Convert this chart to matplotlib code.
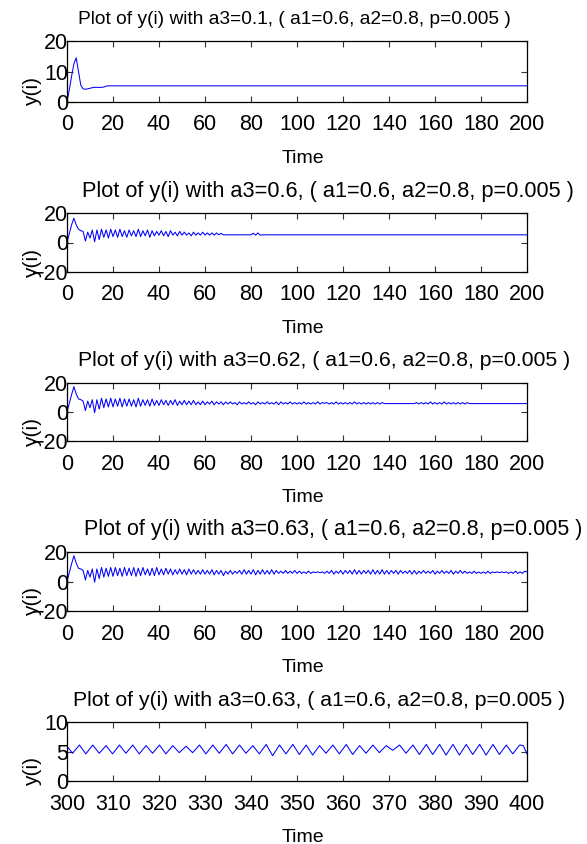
import numpy as np
import matplotlib
matplotlib.use("Agg")
import matplotlib.pyplot as plt
from matplotlib.transforms import offset_copy

plt.rcParams["font.family"] = ["Liberation Sans", "DejaVu Sans"]

# ---- data (time, y(i)) ----
# a3 = 0.1 : smooth transient then flat
t1 = [0, 1, 2, 3, 4, 5, 6, 7, 8, 9, 10, 11, 12, 13, 14, 15, 16, 17, 18, 200]
y1 = [0, 4.0, 8.5, 12.5, 14.5, 10.0, 5.5, 4.3, 4.2, 4.3, 4.5, 4.7, 4.8, 4.8,
      4.8, 4.8, 4.9, 5.2, 5.3, 5.3]

# a3 = 0.6 : oscillation dies out around t=70, small blip near t=80
t2 = list(range(70)) + [80, 81, 82, 83, 84, 85, 200]
y2 = [0, 6, 12, 16.5, 12, 9, 8, 7.5, 1, 7,
      3, 8.5, 0.5, 8.5, 2, 9, 3.5, 8.5, 3, 9,
      4, 8.5, 3.5, 9, 4, 8, 3.5, 8.5, 4.5, 8,
      4, 9, 4, 8, 4.5, 8.5, 3.5, 8, 4.5, 7.5,
      5, 8, 4.5, 7.5, 4, 8, 5, 7, 4.5, 7.5,
      5, 7, 5, 6.5, 4.5, 7, 5, 6.5, 5, 7,
      5, 6.5, 5, 6.5, 5, 6.5, 5.2, 6.2, 5.2, 5.2,
      5.2, 6.3, 5.0, 6.5, 5.0, 5.2, 5.2]

# a3 = 0.62 : oscillation until ~140, flat, burst 152-175, flat
t3 = list(range(140)) + [151] + list(range(152, 176)) + [200]
y3 = [0, 6, 12, 17.5, 12.5, 9, 8.5, 7.5, 1, 7.5,
      3, 8.5, -0.5, 8.5, 2, 9.5, 3, 9, 3.5, 9.5,
      3.5, 9, 4, 9.5, 3.5, 9, 4, 9, 4, 8.5,
      3.5, 9.5, 4, 8.5, 4.5, 8.5, 4, 9, 4.5, 8,
      4.5, 8.5, 5, 8, 4.5, 8, 5, 8.5, 4.5, 7.5,
      5, 8, 5, 7.5, 5, 8, 5, 7, 5, 7.5,
      5, 7, 5.5, 7.5, 5, 7, 5.5, 7, 5, 7,
      5.5, 7, 5.5, 6.5, 5, 7, 5.5, 6.5, 5.5, 7,
      5.5, 6.5, 5, 7, 5.5, 6.5, 5.5, 7, 5.5, 6.5,
      5.5, 7, 5, 7, 5.5, 6.5, 5.5, 7, 5.5, 6.5,
      5.5, 6.5, 5.5, 7, 5.5, 6.5, 5.5, 6.5, 5.5, 7,
      5.5, 6.5, 6, 6.5, 5.5, 6.5, 5.5, 7, 5.5, 6.5,
      5.5, 6.5, 5.5, 6.5, 5.5, 7, 5.5, 6.5, 5.5, 6.5,
      5.5, 6.5, 5.5, 6.5, 5.5, 6.5, 5.5, 6.5, 5.8, 5.8,
      5.8,
      6.5, 5.5, 6.5, 5.5, 6.5, 5.5, 7, 5.5, 6.5, 5.5,
      6.5, 5.5, 7, 5.5, 6.5, 5.5, 6.5, 5.5, 6.5, 5.5,
      6.5, 5.5, 6.5, 5.8,
      5.8]

# a3 = 0.63 : sustained oscillation over the whole window
t4 = list(range(201))
y4 = [0, 6, 12, 17.5, 12.5, 9, 8.5, 7.5, 1, 7.5,
      3, 8.5, -0.5, 8.5, 2, 9.5, 3, 9, 3.5, 9.5,
      3.5, 9.5, 4, 9, 3.5, 9.5, 4, 9, 4, 9.5,
      3.5, 9, 4, 9.5, 4.5, 8.5, 4, 9, 4, 9.5,
      4.5, 8.5, 4.5, 9, 5, 8.5, 4.5, 8, 5, 8.5,
      5, 8, 4.5, 8.5, 5, 8, 5, 7.5, 5, 8,
      5, 7.5, 5, 8, 4.5, 7.5, 5, 7.5, 4, 7,
      5, 7.5, 5, 7, 5.5, 7.5, 5, 8, 5, 7.5,
      5, 8, 4.5, 7.5, 5, 8, 5, 7.5, 5, 8,
      5, 7.5, 5.5, 7, 5.5, 7.5, 5.5, 7, 5.5, 7.5,
      5.5, 7, 5.5, 6.5, 5.5, 7, 5.5, 6.5, 6, 6.5,
      6, 6.5, 5.5, 7, 5.5, 7.5, 5, 7, 5.5, 7.5,
      5, 7.5, 5.5, 7.5, 5, 8, 5, 7.5, 5, 7.5,
      5.5, 7.5, 5, 8, 5, 7.5, 5, 8, 5, 7.5,
      5, 7.5, 5.5, 7.5, 5, 7.5, 5.5, 7, 5.5, 7.5,
      5, 7.5, 5, 7, 5.5, 7.5, 5.5, 7, 5.5, 7.5,
      5, 7, 5.5, 7.5, 5.5, 7, 5.5, 7.5, 5, 7,
      5.5, 7.5, 5.5, 7, 5.5, 6.5, 5.5, 7, 5.5, 6.5,
      5.5, 6.5, 5.5, 7, 5.5, 6.5, 6, 6.5, 6, 6.5,
      6, 6.5, 5.5, 6.5, 5.5, 7, 5.5, 6.5, 5.5, 7,
      6.5]

# a3 = 0.63, zoom on 300..400 (zigzag vertices)
t5 = [300.0, 301.2, 302.7, 304.1, 305.6, 307.0, 308.5, 309.9, 311.4, 312.8,
      314.3, 315.7, 317.2, 318.6, 320.1, 321.5, 323.0, 324.4, 325.9, 327.3,
      328.8, 330.2, 331.7, 333.1, 334.6, 336.0, 337.5, 338.9, 340.4, 341.8,
      343.3, 344.7, 346.2, 347.6, 349.1, 350.5, 352.0, 353.4, 354.9, 356.3,
      357.8, 359.2, 360.7, 362.1, 363.6, 365.0, 366.5, 367.9, 369.4, 370.8,
      372.3, 373.7, 375.2, 376.6, 378.1, 379.5, 381.0, 382.4, 383.9, 385.3,
      386.8, 388.2, 389.7, 391.1, 392.6, 394.0, 395.5, 396.9, 398.4, 399.2,
      400.0]
y5 = [5.9, 4.7, 6.1, 4.6, 6.1, 4.7, 6.0, 4.6, 6.1, 4.7,
      6.1, 4.6, 6.0, 4.7, 6.1, 4.6, 6.0, 4.8, 5.9, 4.8,
      6.1, 4.6, 6.1, 4.7, 6.2, 4.6, 6.1, 4.7, 6.0, 4.6,
      6.2, 4.3, 6.1, 4.6, 6.2, 4.5, 6.1, 4.4, 6.0, 4.7,
      6.1, 4.6, 6.2, 4.5, 6.0, 4.7, 6.1, 4.8, 6.0, 5.2,
      6.1, 4.7, 6.1, 4.5, 6.2, 4.5, 6.2, 4.4, 6.2, 4.4,
      6.2, 4.5, 6.2, 4.4, 6.2, 4.5, 6.1, 4.6, 6.1, 6.0,
      4.6]

a3_labels = ["0.1", "0.6", "0.62", "0.63", "0.63"]
series = [(t1, y1), (t2, y2), (t3, y3), (t4, y4), (t5, y5)]
ylims = [(0, 20), (-20, 20), (-20, 20), (-20, 20), (0, 10)]
yticks = [[0, 10, 20], [-20, 0, 20], [-20, 0, 20], [-20, 0, 20], [0, 5, 10]]
xlims = [(0, 200)] * 4 + [(300, 400)]
xticks = [list(range(0, 201, 20))] * 4 + [list(range(300, 401, 10))]

# layout in pixels (top, bottom) of each axes box; title centre / size
W, H = 587, 844
boxes = [(41, 102), (213, 272), (383, 441), (552, 611), (722, 781)]
title_cx = [294, 328, 324, 333, 319]
title_fs = [13.8, 15.7, 15.3, 15.5, 15.3]
left, right = 67, 527

fig = plt.figure(figsize=(W / 100, H / 100), dpi=100)

for i, ((t, y), (top, bot)) in enumerate(zip(series, boxes)):
    ax = fig.add_axes([left / W, 1 - bot / H, (right - left) / W, (bot - top) / H])
    ax.plot(t, y, color="#0000ff", linewidth=0.75)
    ax.set_xlim(*xlims[i])
    ax.set_ylim(*ylims[i])
    ax.set_xticks(xticks[i])
    ax.set_yticks(yticks[i])
    ax.tick_params(direction="in", length=4, width=0.8, top=True, right=True,
                   labelsize=15.5, color="#333333")
    ax.tick_params(axis="x", pad=9)
    ax.tick_params(axis="y", pad=-1)
    for s in ax.spines.values():
        s.set_linewidth(0.9)

    title = f"Plot of y(i) with a3={a3_labels[i]}, ( a1=0.6, a2=0.8, p=0.005 )"
    tr = offset_copy(ax.transAxes, fig=fig, x=0, y=16.5, units="dots")
    ax.text((title_cx[i] - left) / (right - left), 1.0, title, transform=tr,
            ha="center", va="baseline", fontsize=title_fs[i])

    tr = offset_copy(ax.transAxes, fig=fig, x=0, y=-61, units="dots")
    ax.text((303 - left) / (right - left), 0.0, "Time", transform=tr,
            ha="center", va="baseline", fontsize=14)

    tr = offset_copy(ax.transAxes, fig=fig, x=-25, y=-20.5, units="dots")
    ax.text(0.0, 0.5, "y(i)", transform=tr, rotation=90,
            ha="right", va="center", fontsize=15)

fig.savefig("out.png", dpi=100)
